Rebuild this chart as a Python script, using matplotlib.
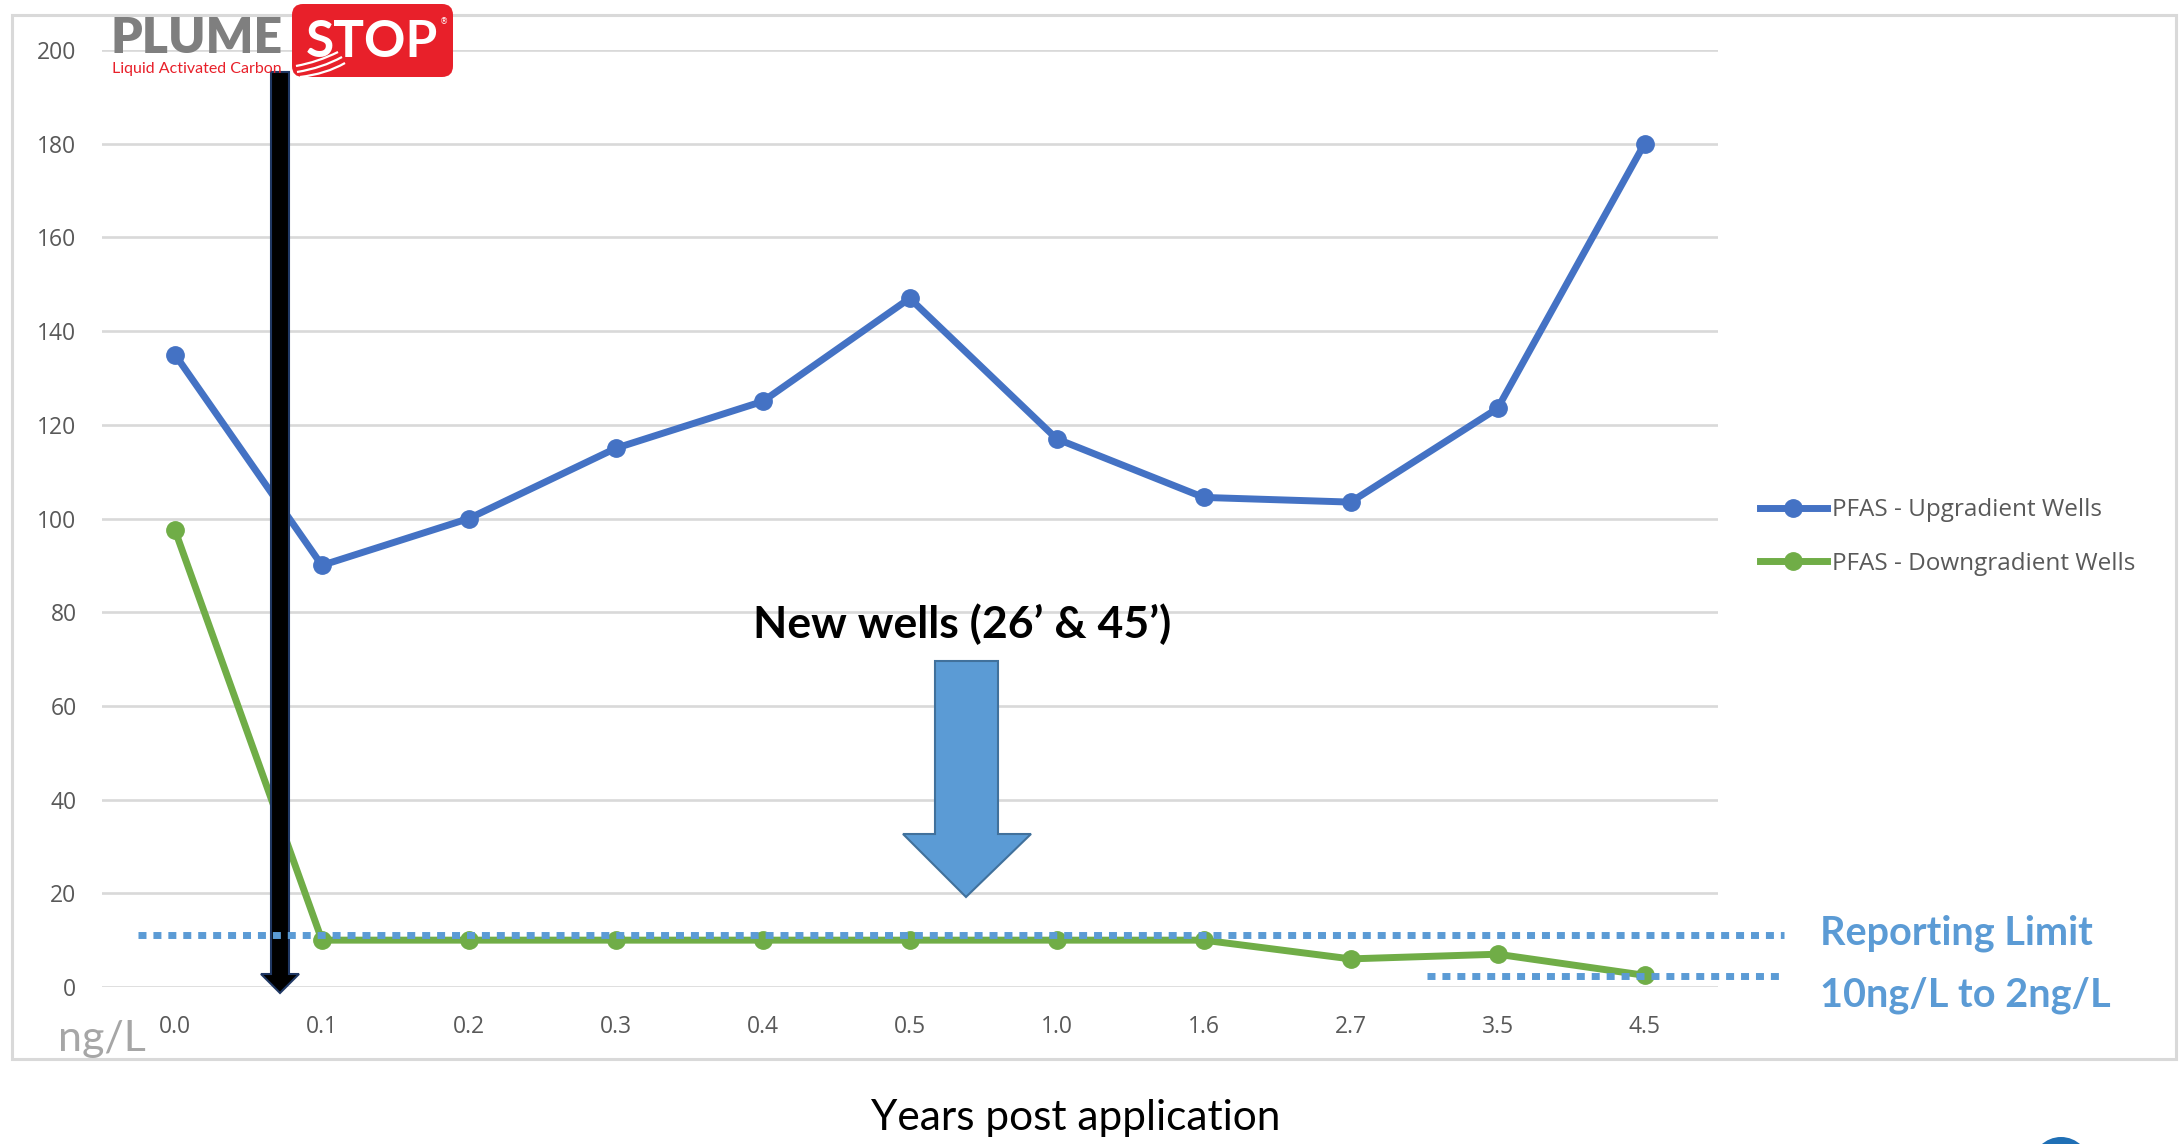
import matplotlib
matplotlib.use("Agg")
import matplotlib.pyplot as plt
from matplotlib.patches import Polygon, FancyBboxPatch, Circle, Rectangle, PathPatch
from matplotlib.path import Path
from matplotlib.transforms import Affine2D

W, H = 2180, 1144

# ---- data ----
years = ["0.0", "0.1", "0.2", "0.3", "0.4", "0.5", "1.0", "1.6", "2.7", "3.5", "4.5"]
upgradient = [135, 90, 100, 115, 125, 147, 117, 104.5, 103.5, 123.5, 180]
downgradient = [97.5, 10, 10, 10, 10, 10, 10, 10, 6, 7, 2.5]
y_ticks = list(range(0, 201, 20))
series_names = ["PFAS - Upgradient Wells", "PFAS - Downgradient Wells"]
# reporting limit guides (drawn a bit above the actual 10 / 2 levels, like the slide)
limit_levels = [11, 2.4]
limit_x_start = [-0.25, 8.52]
limit_x_end = 10.95

BLUE = "#4472C4"
GREEN = "#70AD47"
LIGHT_BLUE = "#5B9BD5"
GRID = "#D9D9D9"
TEXT = "#595959"
RED = "#E8202A"

fig = plt.figure(figsize=(W / 100, H / 100), dpi=100)
fig.patch.set_facecolor("white")

# pixel transform, origin top-left, used for the slide annotations
PIX = Affine2D().scale(1 / W, -1 / H).translate(0, 1) + fig.transFigure

ax = fig.add_axes([101.5 / W, 1 - 987 / H, (1718 - 101.5) / W, (987 - 50) / H])
x = list(range(len(years)))

ax.plot(x, upgradient, color=BLUE, lw=5, marker="o", ms=12.5, label=series_names[0], zorder=3)
ax.plot(x, downgradient, color=GREEN, lw=5, marker="o", ms=12.5, label=series_names[1], zorder=3)

ax.set_xlim(-0.5, len(years) - 0.5)
ax.set_ylim(0, 200)
ax.set_xticks(x)
ax.set_xticklabels(years)
ax.set_yticks(y_ticks)
ax.grid(axis="y", color=GRID, lw=1.9)
ax.set_axisbelow(True)
for s in ax.spines.values():
    s.set_visible(False)
ax.tick_params(axis="both", length=0, labelsize=16.5, labelcolor=TEXT)
ax.tick_params(axis="y", pad=18)
ax.tick_params(axis="x", pad=20)
for lab in ax.get_xticklabels() + ax.get_yticklabels():
    lab.set_fontfamily("Open Sans")

leg = ax.legend(loc="center left", bbox_to_anchor=(1760 / W, 1 - 537 / H),
                bbox_transform=fig.transFigure, frameon=False,
                prop={"family": "Open Sans", "size": 17.5},
                handlelength=2.75, handletextpad=0.2, labelspacing=1.2,
                borderpad=0, borderaxespad=0)
for t in leg.get_texts():
    t.set_color(TEXT)

# reporting limit dotted lines
for lvl, xs in zip(limit_levels, limit_x_start):
    ax.plot([xs, limit_x_end], [lvl, lvl], color=LIGHT_BLUE, lw=5,
            dashes=(1.15, 1.0), dash_capstyle="butt", clip_on=False, zorder=5)

# black arrow (application)
black_arrow = Polygon([(271, 72), (289, 72), (289, 974), (299, 974), (280, 993),
                       (261, 974), (271, 974)], closed=True, facecolor="black",
                      edgecolor="#203864", lw=1.5, transform=PIX, clip_on=False, zorder=4)
ax.add_patch(black_arrow)

# blue block arrow (new wells)
blue_arrow = Polygon([(935, 661), (998, 661), (998, 834), (1031, 834), (966, 897),
                      (903, 834), (935, 834)], closed=True, facecolor=LIGHT_BLUE,
                     edgecolor="#41719C", lw=1.5, transform=PIX, clip_on=False, zorder=4)
ax.add_patch(blue_arrow)

ax.text(962, 624, "New wells (26\u2019 & 45\u2019)", transform=PIX, ha="center", va="center",
        fontsize=32, fontweight="bold", family="Lato", color="black", zorder=6)

ax.text(1820, 933, "Reporting Limit", transform=PIX, ha="left", va="center",
        fontsize=28.5, fontweight="bold", family="Lato", color=LIGHT_BLUE)
ax.text(1820, 995, "10ng/L to 2ng/L", transform=PIX, ha="left", va="center",
        fontsize=28.5, fontweight="bold", family="Lato", color=LIGHT_BLUE)

ax.text(58, 1051, "ng/L", transform=PIX, ha="left", va="baseline",
        fontsize=31, family="Lato", color="#A6A6A6")
ax.text(1076, 1118, "Years post application", transform=PIX, ha="center", va="center",
        fontsize=30.5, family="Lato", color="black")

# chart frame
ax.add_patch(Rectangle((12, 15), 2164, 1044, fill=False, edgecolor=GRID, lw=2.2,
                       transform=PIX, clip_on=False, zorder=1))

# logo
ax.add_patch(FancyBboxPatch((292, 4), 161, 73, boxstyle="round,pad=0,rounding_size=11",
                            facecolor=RED, edgecolor="none", transform=PIX,
                            clip_on=False, zorder=6))
ax.text(111, 53, "PLUME", transform=PIX, ha="left", va="baseline", fontsize=36,
        fontweight="heavy", family="Lato", color="#7F7F7F", zorder=7)
ax.text(372, 57, "STOP", transform=PIX, ha="center", va="baseline", fontsize=37,
        fontweight="bold", family="Lato", color="white", zorder=7)
ax.text(444, 22, "\u00ae", transform=PIX, ha="center", va="center", fontsize=6,
        family="DejaVu Sans", color="white", zorder=7)
ax.text(112, 73, "Liquid Activated Carbon", transform=PIX, ha="left", va="baseline",
        fontsize=11.5, family="Lato", color=RED, zorder=7)
for (x0, y0), (cx, cy), (x1, y1) in [((296, 66), (318, 62), (338, 52)),
                                     ((297, 72), (322, 68), (342, 57)),
                                     ((300, 77), (326, 74), (345, 63))]:
    swoosh = Path([(x0, y0), (cx, cy), (x1, y1)], [Path.MOVETO, Path.CURVE3, Path.CURVE3])
    ax.add_patch(PathPatch(swoosh, facecolor="none", edgecolor="white", lw=1.6,
                           transform=PIX, clip_on=False, zorder=7))

# corner badge from the slide
ax.add_patch(Circle((2061, 1166), 29, facecolor="#1F6FB5", edgecolor="none",
                    transform=PIX, clip_on=False, zorder=2))

fig.savefig("out.png", dpi=100)
